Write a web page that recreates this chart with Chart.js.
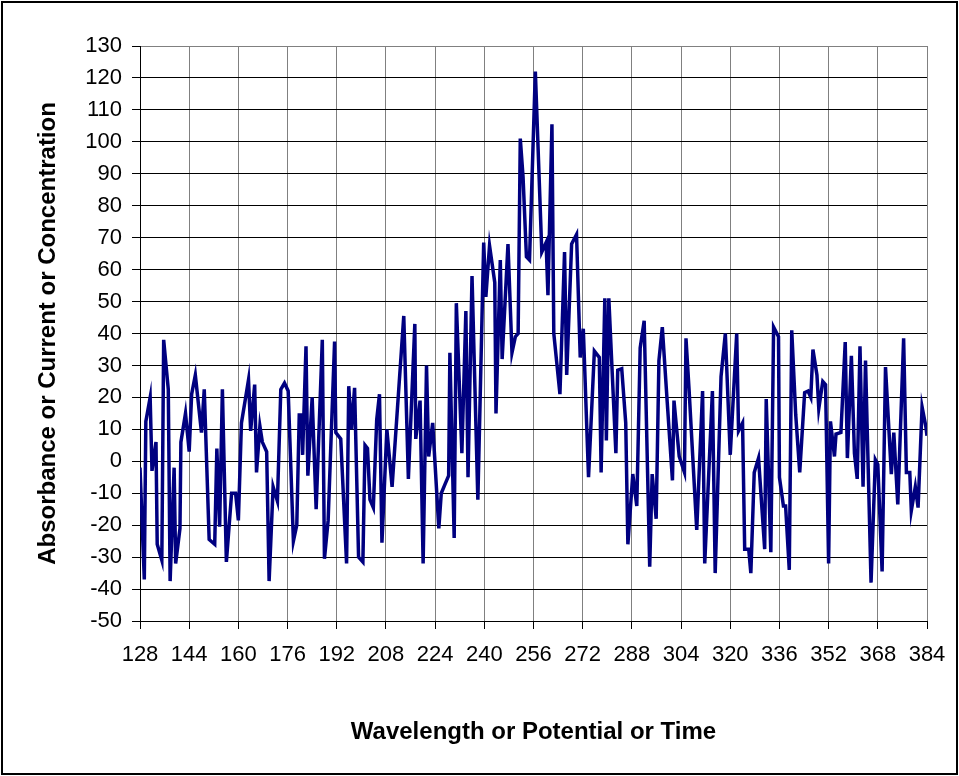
<!DOCTYPE html>
<html>
<head>
<meta charset="utf-8">
<script src="https://cdn.jsdelivr.net/npm/chart.js@4.4.0/dist/chart.umd.min.js"></script>
<style>
  html, body { margin: 0; padding: 0; background: #fff; }
  #wrap { width: 959px; height: 776px; }
</style>
</head>
<body>
<div id="wrap"><canvas id="spectrum"></canvas></div>
<script>
// positions (x = wavelength, y = signal)
const xValues = [
  128, 129.4, 129.9, 131.3, 131.9, 133.2, 133.6, 135.1, 135.7, 137.2, 137.8, 139.1, 139.6, 141, 141.3, 142.8, 144, 144.8, 146, 148, 148.9,
  150.5, 152.3, 153, 153.9, 154.8, 156.1, 157.8, 159.1, 160, 161, 162.2, 163.3, 164, 165.3, 165.9, 167, 167.8, 169.2, 170, 171.3, 172.7, 173.8, 175,
  176.2, 177.9, 179, 179.8, 180.6, 180.9, 182, 182.6, 184, 185.3, 187.3, 188, 189.2, 191.3, 191.7, 193.3, 195.2, 195.9, 196.8, 197.8, 199.1, 200.5,
  201.2, 202, 202.8, 203.9, 205, 205.9, 206.7, 208.3, 210, 213.8, 215.3, 217.4, 217.7, 219.1, 220.1, 221.2, 221.9, 223.2, 225.2, 226, 227.3, 228.4,
  228.8, 230.2, 230.9, 232.7, 234, 234.7, 236, 237.9, 239.8, 240.5, 241.7, 243.4, 243.8, 245.2, 245.8, 247.7, 249, 250.1, 251, 251.7, 252.6, 253.7,
  254.7, 256.6, 258.7, 260.1, 260.7, 262, 262.6, 264.6, 266.1, 266.8, 268.4, 270, 271.2, 272.2, 273.9, 275.8, 277.4, 278, 279.2,
  279.7, 280.5, 282.8, 283.4, 284.7, 286, 286.7, 288.3, 289.6, 290.7, 292, 293.8, 294.6, 295.9, 296.8, 297.9, 299.5, 301.2, 301.7, 303.4, 305.1, 305.6,
  306.6, 309.1, 311, 311.7, 314.2, 315.1, 317, 318.4, 320, 322.1, 322.7, 324, 324.7, 326, 326.7, 327.8, 329.2, 331.2, 331.7,
  333.2, 334.1, 335.7, 336, 337.3, 338, 339.2, 340, 341.3, 342.6, 344.2, 345.3, 346.2, 346.9, 348.2, 348.8, 350.1, 351, 352, 352.6, 353.9, 354.4, 356, 357.4,
  358.1, 359.4, 360.4, 361.3, 362.2, 363.2, 364, 365.8, 367.2, 368, 369.4, 370.5, 372.4, 373.2, 374.5, 376.4, 377.3, 378.4, 378.9, 380.2, 381.1, 382.4, 383.6, 384
];
const yValues = [
  -2, -37, 12.5, 20, -3, 6, -26, -31, 38, 22.5, -37.5, -2, -32, -21, 6, 15, 3, 21, 27, 9, 22.5,
  -24.5, -26, 4, -20.5, 22.5, -31.5, -10, -10, -18.5, 12, 19, 25.5, 9.5, 24, -3.5, 11, 6, 3, -37.5, -8, -12.5, 22.5, 24.5,
  22, -25, -20, 14.5, 14.5, 2, 36, -4.5, 20, -15, 38, -30.5, -18.5, 37.5, 9, 7, -32, 23.5, 10, 23, -30, -31.5,
  5, 4, -12, -14.5, 13, 21, -25.5, 10, -8, 45.5, -5.5, 43, 7, 19, -32, 30, 1.5, 12, -21, -10, -7, -4.5,
  34, -24, 49.5, 2.5, 47, -5, 58, -12, 68.5, 51.5, 67.5, 56, 15, 63, 32, 68, 34, 39, 40, 101, 89, 64,
  63, 122, 65.5, 68.5, 52, 105.5, 40, 21, 65.5, 27, 68, 71, 32.5, 41.5, -5, 34.5, 32.5, -3.5, 51,
  6.5, 51, 2.5, 28.5, 29, 12, -26, -4, -14, 35.5, 44, -33, -4, -18, 31.5, 42, 18.5, -6, 19, 1.5, -3.5, 38.5,
  22.5, -21.5, 22, -32, 22, -35, 26.5, 40, 2, 40, 9.5, 12, -27.5, -27.5, -35, -3.5, 1, -27.5, 19.5,
  -28.5, 42, 39, -5, -14, -14, -34, 41, 14.5, -3.5, 21.5, 22, 20, 35, 27, 16.5, 25, 24, -32, 12.5, 1.5, 8.5, 9, 37.3,
  1, 33, 2.5, -5.5, 36, -8, 31.5, -38, 0.5, -1, -34.5, 29.5, -4, 9, -13.5, 38.5, -3.5, -3.5, -15.5, -8, -14.5, 17, 11, 8
];
const xMin = 128, xMax = 384, xStep = 16;
const yMin = -50, yMax = 130, yStep = 10;

const points = xValues.map((x, i) => ({ x: x, y: yValues[i] }));
const fontFamily = 'Arial, "Liberation Sans", sans-serif';

const frame = {
  id: 'frame',
  beforeDraw(chart) {
    const ctx = chart.ctx;
    ctx.save();
    ctx.fillStyle = '#fff';
    ctx.fillRect(0, 0, chart.width, chart.height);
    ctx.restore();
  },
  afterDraw(chart) {
    const ctx = chart.ctx;
    ctx.save();
    ctx.strokeStyle = '#000';
    ctx.lineWidth = 2;
    ctx.strokeRect(2, 2, chart.width - 4, chart.height - 4);
    ctx.restore();
  }
};

new Chart(document.getElementById('spectrum'), {
  type: 'line',
  data: {
    datasets: [{
      data: points,
      borderColor: '#000080',
      borderWidth: 3.5,
      pointRadius: 0,
      tension: 0,
      fill: false
    }]
  },
  options: {
    responsive: true,
    maintainAspectRatio: false,
    animation: false,
    events: [],
    layout: { padding: { top: 46, right: 32, left: 0, bottom: 0 } },
    plugins: { legend: { display: false }, tooltip: { enabled: false } },
    scales: {
      x: {
        type: 'linear',
        min: xMin,
        max: xMax,
        afterFit: (scale) => { scale.height = 155; },
        afterBuildTicks: (scale) => {
          const t = [];
          for (let v = xMin; v <= xMax; v += xStep) t.push({ value: v });
          scale.ticks = t;
        },
        ticks: {
          color: '#000',
          font: { family: fontFamily, size: 22 },
          maxRotation: 0,
          autoSkip: false,
          padding: 13
        },
        grid: { color: '#808080', tickColor: '#000', tickLength: 8, lineWidth: 1 },
        border: { color: '#000', width: 1 },
        title: {
          display: true,
          text: 'Wavelength or Potential or Time',
          color: '#000',
          font: { family: fontFamily, size: 24, weight: 'bold' },
          padding: { top: 0, bottom: 29 }
        }
      },
      y: {
        min: yMin,
        max: yMax,
        afterFit: (scale) => { scale.width = 140; },
        ticks: {
          stepSize: yStep,
          color: '#000',
          font: { family: fontFamily, size: 22 },
          padding: 10
        },
        grid: {
          color: (c) => (c.tick && c.tick.value === yMax ? '#808080' : '#000'),
          tickColor: '#000',
          tickLength: 8,
          lineWidth: 1
        },
        border: { color: '#000', width: 1 },
        title: {
          display: true,
          text: 'Absorbance or Current or Concentration',
          color: '#000',
          font: { family: fontFamily, size: 24, weight: 'bold' },
          padding: { top: 34, bottom: 0 }
        }
      }
    }
  },
  plugins: [frame]
});
</script>
</body>
</html>
